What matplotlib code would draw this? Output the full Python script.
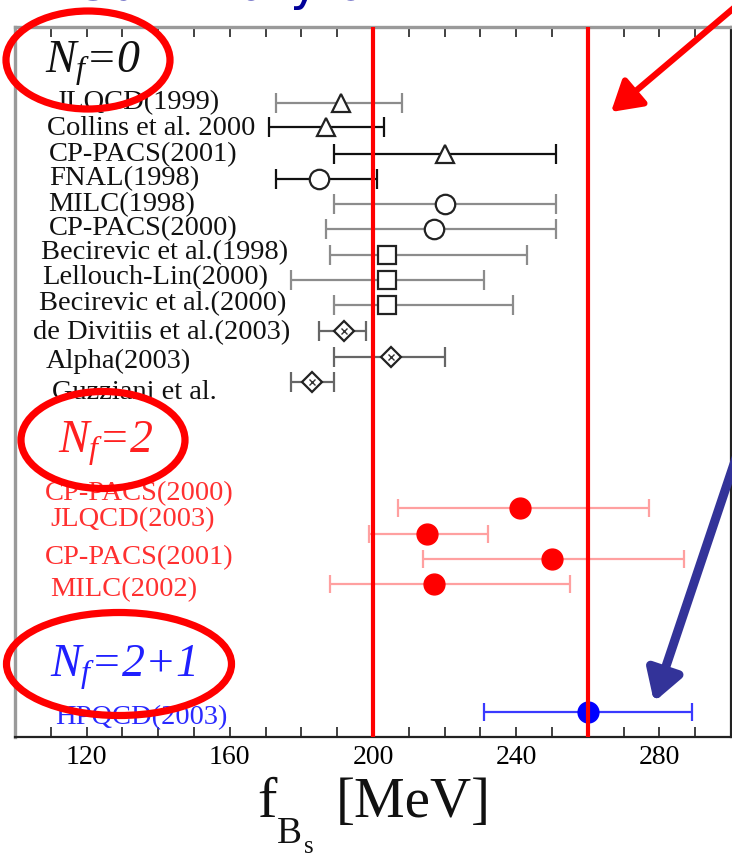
import matplotlib
matplotlib.use("Agg")
import matplotlib.pyplot as plt
from matplotlib.patches import Ellipse
from matplotlib.ticker import FixedLocator, MultipleLocator
from matplotlib.transforms import blended_transform_factory

plt.rcParams['font.family'] = ['Liberation Serif', 'DejaVu Serif']
plt.rcParams['mathtext.fontset'] = 'custom'
plt.rcParams['mathtext.rm'] = 'Liberation Serif'
plt.rcParams['mathtext.it'] = 'Liberation Serif:italic'

# quenched results (Nf=0)
q_names = ["JLQCD(1999)", "Collins et al. 2000", "CP-PACS(2001)", "FNAL(1998)",
           "MILC(1998)", "CP-PACS(2000)", "Becirevic et al.(1998)", "Lellouch-Lin(2000)",
           "Becirevic et al.(2000)", "de Divitiis et al.(2003)", "Alpha(2003)", "Guzziani et al."]
q_val = [191, 187, 220, 185, 220, 217, 204, 204, 204, 192, 205, 183]
q_lo = [173, 171, 189, 173, 189, 187, 188, 177, 189, 185, 189, 177]
q_hi = [208, 203, 251, 201, 251, 251, 243, 231, 239, 198, 220, 189]
q_rows = [3, 3.94, 5.0, 5.98, 6.97, 7.95, 8.98, 9.96, 10.94, 11.97, 12.99, 13.98]
q_label_rows = [2.99, 3.98, 5.04, 5.98, 7.0, 7.95, 8.9, 9.88, 10.9, 12.05, 13.15, 14.37]

# two flavour results (Nf=2)
d_names = ["CP-PACS(2000)", "JLQCD(2003)", "CP-PACS(2001)", "MILC(2002)"]
d_val = [241, 215, 250, 217]
d_lo = [207, 199, 214, 188]
d_hi = [277, 232, 287, 255]
d_rows = [18.94, 19.96, 20.94, 21.93]
d_label_rows = [18.35, 19.41, 20.87, 22.13]

# 2+1 flavour result
t_names = ["HPQCD(2003)"]
t_val = [260]
t_lo = [231]
t_hi = [289]
t_rows = [26.97]
t_label_rows = [27.2]

band = [200, 260]

# drawing styles
q_markers = ['^', '^', '^', 'o', 'o', 'o', 's', 's', 's', 'D', 'D', 'D']
q_msize = [13, 13, 13, 14, 14, 14, 12.5, 12.5, 12.5, 10, 10, 10]
q_bar = ['#8c8c8c', '#111111', '#111111', '#111111', '#8c8c8c', '#8c8c8c',
         '#8c8c8c', '#8c8c8c', '#8c8c8c', '#666666', '#666666', '#666666']
q_cap = ['#8c8c8c', '#111111', '#111111', '#111111', '#111111', '#8c8c8c',
         '#222222', '#222222', '#222222', '#444444', '#444444', '#222222']
q_label_x = [55, 47, 49, 49, 48, 49, 41, 42, 39, 33, 46, 52]
d_label_x = [45, 50, 45, 50]
t_label_x = [55]

W, H = 732, 858
fig = plt.figure(figsize=(W / 100, H / 100), dpi=100)
fig.patch.set_facecolor('white')


def px(x, y):
    # figure pixel (from top-left) -> figure fraction
    return x / W, 1 - y / H


ax_l, ax_r, ax_t, ax_b = 15, 731, 27, 737
ax = fig.add_axes([ax_l / W, 1 - ax_b / H, (ax_r - ax_l) / W, (ax_b - ax_t) / H])
ax.set_xlim(100, 300)
ax.set_ylim(27.95, 0)
ax.set_yticks([])
lab_tf = blended_transform_factory(ax.transAxes, ax.transData)

ax.xaxis.set_major_locator(FixedLocator([120, 160, 200, 240, 280]))
ax.xaxis.set_minor_locator(MultipleLocator(10))
ax.tick_params(axis='x', which='both', direction='in', top=True, bottom=True,
               length=7, width=1.3, color='#333333', labelsize=20, pad=6)
for side in ['left', 'top']:
    ax.spines[side].set_color('#9a9a9a')
    ax.spines[side].set_linewidth(2.4)
for side in ['right', 'bottom']:
    ax.spines[side].set_color('#222222')
    ax.spines[side].set_linewidth(1.6)


def draw_bar(x, lo, hi, row, line_c, cap_c, cap):
    eb = ax.errorbar([x], [row], xerr=[[x - lo], [hi - x]], fmt='none',
                     ecolor=line_c, elinewidth=1.6, capsize=cap, capthick=1.6, zorder=2)
    for c in eb[1]:
        c.set_color(cap_c)


def label_x(p):
    return (p - ax_l) / (ax_r - ax_l)


for i in range(len(q_names)):
    draw_bar(q_val[i], q_lo[i], q_hi[i], q_rows[i], q_bar[i], q_cap[i], 7)
    ax.plot(q_val[i], q_rows[i], marker=q_markers[i], ms=q_msize[i], mfc='white',
            mec='#222222', mew=1.6, ls='none', zorder=3)
    if q_markers[i] == 'D':
        ax.plot(q_val[i], q_rows[i], marker='x', ms=4, mec='#333333', mew=1.0,
                ls='none', zorder=4)
    ax.text(label_x(q_label_x[i]), q_label_rows[i], q_names[i], transform=lab_tf,
            ha='left', va='center', fontsize=20.5, color='#111111')

for i in range(len(d_names)):
    draw_bar(d_val[i], d_lo[i], d_hi[i], d_rows[i], '#ffa0a0', '#ff8080', 6.5)
    ax.plot(d_val[i], d_rows[i], marker='o', ms=15, mfc='#ff0000', mec='#ff0000',
            ls='none', zorder=3)
    ax.text(label_x(d_label_x[i]), d_label_rows[i], d_names[i], transform=lab_tf,
            ha='left', va='center', fontsize=20.5, color='#ff3030')

for i in range(len(t_names)):
    draw_bar(t_val[i], t_lo[i], t_hi[i], t_rows[i], '#3a3aff', '#3a3aff', 6.5)
    ax.plot(t_val[i], t_rows[i], marker='o', ms=15, mfc='#0000ff', mec='#0000ff',
            ls='none', zorder=3)
    ax.text(label_x(t_label_x[i]), t_label_rows[i], t_names[i], transform=lab_tf,
            ha='left', va='center', fontsize=20.5, color='#2a2aff')

for b in band:
    ax.axvline(b, color='#ff0000', lw=3.0, zorder=6)

# group headings
head_kw = dict(ha='left', va='baseline', fontsize=33, fontstyle='italic')
fig.text(*px(45, 73), r'$N_f$=0', color='#111111', **head_kw)
fig.text(*px(58, 453), r'$N_f$=2', color='#ff2020', **head_kw)
fig.text(*px(50, 677), r'$N_f$=2+1', color='#2020ff', **head_kw)

# red rings around the headings
for cx, cy, w, h in [(88, 60, 164, 98), (103, 440, 164, 97), (119, 664, 225, 103)]:
    e = Ellipse(px(cx, cy), w / W, h / H, transform=fig.transFigure,
                fill=False, edgecolor='#ff0000', lw=5.2, zorder=10)
    fig.add_artist(e)

# axis label, built from pieces so the nested subscripts sit low
lab_c = '#111111'
fig.text(*px(257, 817), 'f', ha='left', va='baseline', fontsize=42, color=lab_c)
fig.text(*px(277, 843), 'B', ha='left', va='baseline', fontsize=27, color=lab_c)
fig.text(*px(304, 853), 's', ha='left', va='baseline', fontsize=18, color=lab_c)
fig.text(*px(336, 817), '[MeV]', ha='left', va='baseline', fontsize=41, color=lab_c)

# slide title, clipped by the top edge
fig.text(78 / W, 1.0, 'Summary of f', ha='left', va='baseline',
         fontsize=36, color='#000099', family='DejaVu Sans')

# pointer arrows
ax.annotate('', xy=(611, H - 112), xycoords='figure pixels',
            xytext=(748, H + 4), textcoords='figure pixels',
            arrowprops=dict(arrowstyle='-|>,head_length=1.0,head_width=0.6',
                            mutation_scale=18, color='#ff0000', lw=4.5,
                            shrinkA=0, shrinkB=0), annotation_clip=False)
ax.annotate('', xy=(654, H - 702), xycoords='figure pixels',
            xytext=(742, H - 440), textcoords='figure pixels',
            arrowprops=dict(arrowstyle='-|>,head_length=1.0,head_width=0.6',
                            mutation_scale=18, color='#333399', lw=6.5,
                            shrinkA=0, shrinkB=0), annotation_clip=False)

fig.savefig('out.png', dpi=100)
